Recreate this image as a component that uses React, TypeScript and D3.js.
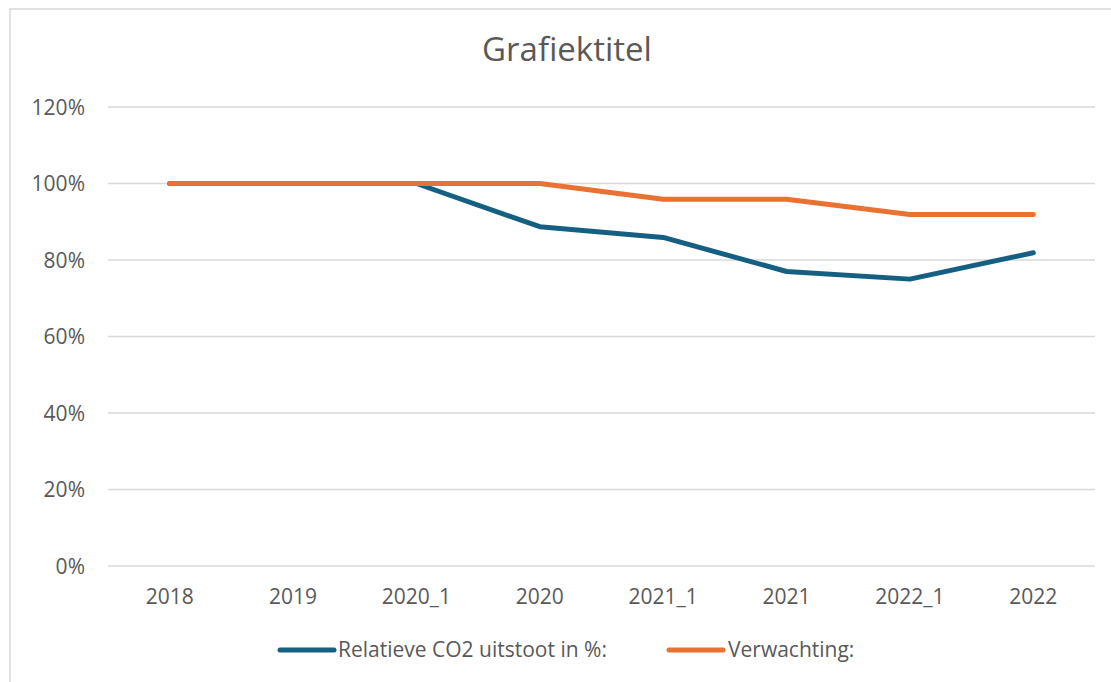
import React from "react";
import * as d3 from "d3";

const categories = ["2018", "2019", "2020_1", "2020", "2021_1", "2021", "2022_1", "2022"];
const relatieveCO2 = [100, 100, 100, 88.7, 85.9, 77, 75, 81.9];
const verwachting = [100, 100, 100, 100, 95.9, 95.9, 91.9, 91.9];
const yTicks = [0, 20, 40, 60, 80, 100, 120];

const seriesNames = ["Relatieve CO2 uitstoot in %:", "Verwachting:"];
const colors = ["#156082", "#E97132"];

export default function App() {
  const W = 1111, H = 682;
  const left = 108, right = 1095, top = 107, bottom = 566;
  const x = d3.scaleBand<string>().domain(categories).range([left, right]).padding(0);
  const y = d3.scaleLinear().domain([0, 120]).range([bottom, top]);
  const cx = (c: string) => (x(c) as number) + x.bandwidth() / 2;
  const line = d3.line<number>().x((_, i) => cx(categories[i])).y((v) => y(v));
  const font = "'Open Sans', 'Liberation Sans', sans-serif";
  const textColor = "#595959";
  return (
    <svg width={W} height={H} style={{ position: "absolute", left: 0, top: 0 }}>
      <rect x={0} y={0} width={W} height={H} fill="#fff" />
      <rect x={10} y={9} width={W + 10} height={H + 10} fill="#fff" stroke="#d9d9d9" strokeWidth={1.5} />
      <text x={567} y={61} textAnchor="middle" fontFamily={font} fontSize={33} fill={textColor}>
        Grafiektitel
      </text>
      {yTicks.map((t) => (
        <g key={t}>
          <line x1={left} x2={right} y1={y(t)} y2={y(t)} stroke="#d9d9d9" strokeWidth={1.5} />
          <text x={85} y={y(t) + 7.5} textAnchor="end" fontFamily={font} fontSize={21} fill={textColor}>
            {t}%
          </text>
        </g>
      ))}
      {categories.map((c) => (
        <text key={c} x={cx(c)} y={604} textAnchor="middle" fontFamily={font} fontSize={21} fill={textColor}>
          {c}
        </text>
      ))}
      {[relatieveCO2, verwachting].map((s, i) => (
        <path key={i} d={line(s) || ""} fill="none" stroke={colors[i]} strokeWidth={5} strokeLinecap="round" strokeLinejoin="round" />
      ))}
      {[{ x0: 280, tx: 338 }, { x0: 669, tx: 728 }].map((l, i) => (
        <g key={i}>
          <line x1={l.x0} x2={l.x0 + 54} y1={650} y2={650} stroke={colors[i]} strokeWidth={5} strokeLinecap="round" />
          <text x={l.tx} y={657} fontFamily={font} fontSize={21} fill={textColor}>
            {seriesNames[i]}
          </text>
        </g>
      ))}
    </svg>
  );
}
